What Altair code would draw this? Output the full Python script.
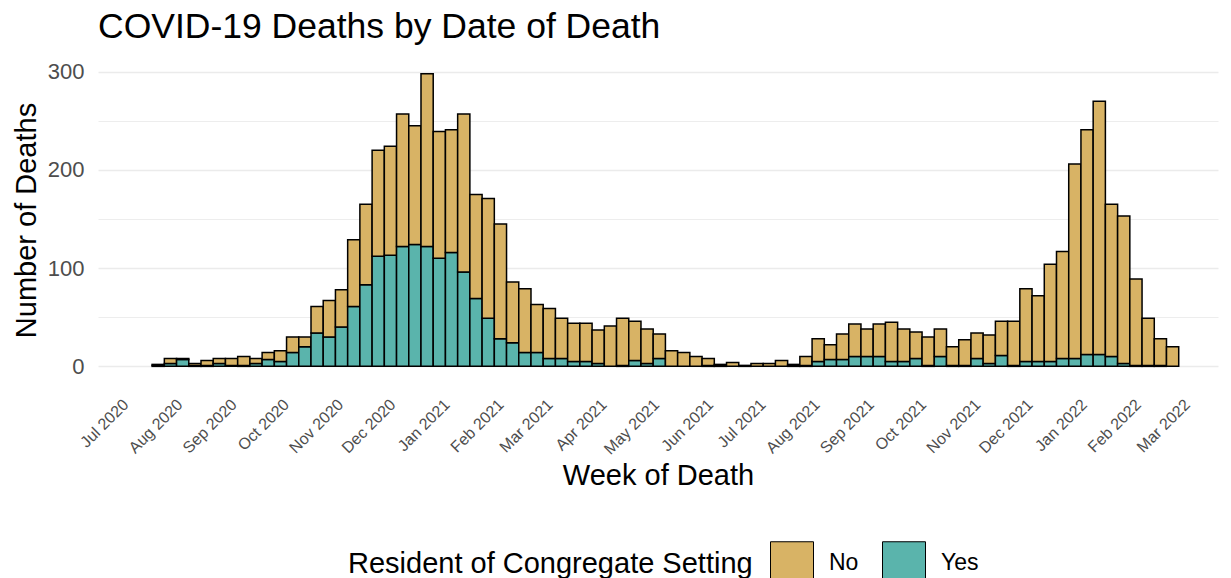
import altair as alt
import pandas as pd

# ---- data (weekly counts) ----
first_week = "2020-07-19"
yes_counts = [1, 3, 7, 1, 1, 3, 1, 1, 3, 7, 5, 14, 20, 34, 30, 40, 61, 83, 112, 113,
              122, 124, 122, 110, 116, 96, 69, 49, 28, 24, 14, 14, 8, 8, 5, 5, 3, 0, 1, 6,
              3, 8, 0, 0, 0, 1, 1, 0, 0, 0, 0, 0, 1, 1, 5, 7, 7, 10, 10, 10,
              5, 5, 8, 1, 10, 1, 1, 8, 3, 11, 1, 5, 5, 5, 8, 8, 12, 12, 10, 3,
              1, 1, 1, 0]
no_counts = [1, 5, 1, 2, 5, 5, 7, 9, 5, 7, 11, 16, 10, 27, 37, 38, 68, 82, 108, 111,
             135, 121, 176, 129, 125, 161, 106, 122, 117, 62, 65, 49, 51, 41, 39, 39, 34, 41, 48, 40,
             35, 25, 16, 14, 10, 7, 1, 4, 1, 3, 3, 6, 1, 9, 23, 15, 26, 33, 28, 33,
             40, 33, 27, 29, 28, 19, 26, 26, 29, 35, 45, 74, 67, 99, 109, 198, 229, 258, 155, 150,
             88, 48, 27, 20]
categories = ["No", "Yes"]
colors = ["#D8B365", "#5AB4AC"]
tick_months = ["2020-07", "2020-08", "2020-09", "2020-10", "2020-11", "2020-12",
               "2021-01", "2021-02", "2021-03", "2021-04", "2021-05", "2021-06",
               "2021-07", "2021-08", "2021-09", "2021-10", "2021-11", "2021-12",
               "2022-01", "2022-02", "2022-03"]

weeks = pd.date_range(first_week, periods=len(yes_counts), freq="7D")
half = pd.Timedelta(hours=84)
fmt = "%Y-%m-%dT%H:%M:%S"
rows = []
for wk, y, n in zip(weeks, yes_counts, no_counts):
    for cat, v, order in (("Yes", y, 0), ("No", n, 1)):
        if v > 0:
            rows.append({
                "week": wk.strftime(fmt),
                "start": (wk - half).strftime(fmt),
                "end": (wk + half).strftime(fmt),
                "resident": cat,
                "deaths": v,
                "stack_order": order,
            })
df = pd.DataFrame(rows)

tick_values = [alt.DateTime(year=int(m[:4]), month=int(m[5:]), date=1) for m in tick_months]

x_axis = alt.Axis(
    values=tick_values, format="%b %Y", labelAngle=315, labelAlign="right",
    labelBaseline="top", labelFontSize=16, labelColor="#4D4D4D", labelPadding=15,
    labelOffset=-7,
    ticks=False, tickSize=0, domain=False, grid=False, labelOverlap=False,
    title="Week of Death", titleFontSize=29, titleFontWeight="normal",
    titleColor="black", titlePadding=5,
)
y_axis = alt.Axis(
    values=[0, 50, 100, 150, 200, 250, 300],
    labelExpr="datum.value % 100 === 0 ? datum.label : ''",
    labelFontSize=22, labelColor="#4D4D4D", labelPadding=14,
    ticks=False, tickSize=0, domain=False,
    grid=True, gridColor="#EBEBEB",
    gridWidth={"condition": {"test": "datum.value % 100 === 0", "value": 1.6}, "value": 0.9},
    title="Number of Deaths", titleFontSize=29, titleFontWeight="normal",
    titleColor="black", titlePadding=6,
)

chart = (
    alt.Chart(df)
    .transform_stack(
        stack="deaths", as_=["y0", "y1"], groupby=["week"],
        sort=[alt.SortField("stack_order", order="ascending")],
    )
    .mark_bar(stroke="black", strokeWidth=1.5)
    .encode(
        x=alt.X("start:T", axis=x_axis,
                scale=alt.Scale(domain=[alt.DateTime(year=2020, month=6, date=14, hours=12),
                                        alt.DateTime(year=2022, month=3, date=18)])),
        x2="end:T",
        y=alt.Y("y0:Q", axis=y_axis,
                scale=alt.Scale(domain=[-14.9, 312.9], nice=False, zero=False)),
        y2="y1:Q",
        fill=alt.Fill(
            "resident:N",
            scale=alt.Scale(domain=categories, range=colors),
            legend=alt.Legend(
                title="Resident of Congregate Setting", orient="none",
                legendX=250, legendY=482, direction="horizontal", titleOrient="left",
                titleFontSize=29, titleFontWeight="normal", titleColor="black",
                titlePadding=17, titleBaseline="middle", titleLimit=800,
                labelFontSize=23, labelColor="black", labelOffset=15, labelLimit=200,
                columnPadding=21, symbolType="square", symbolSize=1849,
                symbolStrokeColor="black", symbolStrokeWidth=1, symbolOpacity=1,
            ),
        ),
    )
    .properties(
        width=1120, height=322,
        title=alt.TitleParams("COVID-19 Deaths by Date of Death", anchor="start",
                              frame="group", fontSize=35.5, fontWeight="normal",
                              color="black", offset=14),
        autosize=alt.AutoSizeParams(type="none"),
        padding={"left": 90, "top": 51, "right": 5, "bottom": 197},
    )
    .configure(font="Liberation Sans")
    .configure_view(stroke=None)
)

chart.save("out.html", embed_options={"renderer": "svg", "actions": False})
